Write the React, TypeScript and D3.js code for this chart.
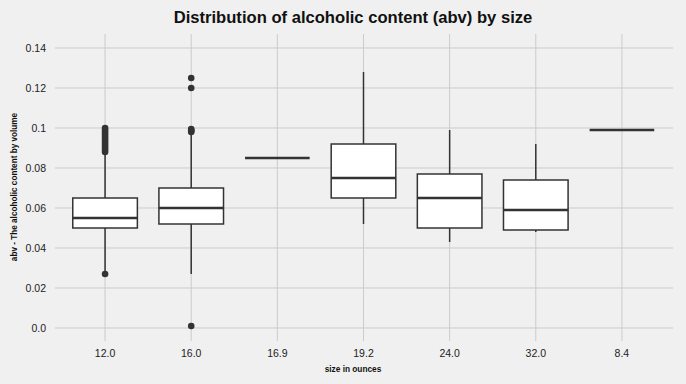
import React, { useEffect, useRef } from "react";
import * as d3 from "d3";

// box stats, one entry per size
const sizes = ["12.0", "16.0", "16.9", "19.2", "24.0", "32.0", "8.4"];
const q1 = [0.05, 0.052, 0.085, 0.065, 0.05, 0.049, 0.099];
const medians = [0.055, 0.06, 0.085, 0.075, 0.065, 0.059, 0.099];
const q3 = [0.065, 0.07, 0.085, 0.092, 0.077, 0.074, 0.099];
const whiskerLow = [0.028, 0.027, 0.085, 0.052, 0.043, 0.048, 0.099];
const whiskerHigh = [0.087, 0.097, 0.085, 0.128, 0.099, 0.092, 0.099];
const outliers = [
  [0.027, 0.088, 0.089, 0.09, 0.091, 0.092, 0.093, 0.094, 0.095, 0.096, 0.097, 0.098, 0.099, 0.1],
  [0.001, 0.098, 0.0985, 0.099, 0.0995, 0.12, 0.125],
  [], [], [], [], []
];
const yTicks = [0, 0.02, 0.04, 0.06, 0.08, 0.1, 0.12, 0.14];

const W = 686, H = 384;
const ink = "#333333";
const grid = "#cbcbcb";

export default function App() {
  const ref = useRef<SVGSVGElement>(null);

  useEffect(() => {
    document.body.style.margin = "0";
    const svg = d3.select(ref.current);

    const x = d3.scaleBand().domain(sizes).range([62, 665]);
    const y = d3.scaleLinear().domain([-0.0065, 0.147]).range([341, 34]);
    const bw = x.bandwidth() * 0.75;
    const cx = (i: number) => (x(sizes[i]) as number) + x.bandwidth() / 2;

    const rows = sizes.map((s, i) => ({ s, i }));

    // grid
    svg.selectAll(".hgrid").data(yTicks).join("line").attr("class", "hgrid")
      .attr("x1", 55).attr("x2", 673)
      .attr("y1", d => y(d)).attr("y2", d => y(d))
      .attr("stroke", grid).attr("stroke-width", 1);
    svg.selectAll(".vgrid").data(sizes).join("line").attr("class", "vgrid")
      .attr("x1", (d, i) => cx(i)).attr("x2", (d, i) => cx(i))
      .attr("y1", y.range()[1]).attr("y2", y.range()[0])
      .attr("stroke", grid).attr("stroke-width", 1);

    // tick labels
    svg.selectAll(".ytick").data(yTicks).join("text").attr("class", "ytick")
      .attr("x", 46).attr("y", d => y(d)).attr("dy", "0.35em")
      .attr("text-anchor", "end").attr("font-size", 10.5).attr("fill", "#222")
      .text(d => (d === 0 ? "0.0" : d === 0.1 ? "0.1" : d.toFixed(2)));
    svg.selectAll(".xtick").data(sizes).join("text").attr("class", "xtick")
      .attr("x", (d, i) => cx(i)).attr("y", 357)
      .attr("text-anchor", "middle").attr("font-size", 10.5).attr("fill", "#222")
      .text(d => d);

    // whiskers
    svg.selectAll(".whisk").data(rows).join("line").attr("class", "whisk")
      .attr("x1", d => cx(d.i)).attr("x2", d => cx(d.i))
      .attr("y1", d => y(whiskerLow[d.i])).attr("y2", d => y(whiskerHigh[d.i]))
      .attr("stroke", ink).attr("stroke-width", 1.5);

    // boxes
    svg.selectAll(".box").data(rows.filter(d => q3[d.i] > q1[d.i])).join("rect").attr("class", "box")
      .attr("x", d => cx(d.i) - bw / 2).attr("width", bw)
      .attr("y", d => y(q3[d.i])).attr("height", d => y(q1[d.i]) - y(q3[d.i]))
      .attr("fill", "white").attr("stroke", ink).attr("stroke-width", 1.5);

    // medians
    svg.selectAll(".med").data(rows).join("line").attr("class", "med")
      .attr("x1", d => cx(d.i) - bw / 2).attr("x2", d => cx(d.i) + bw / 2)
      .attr("y1", d => y(medians[d.i])).attr("y2", d => y(medians[d.i]))
      .attr("stroke", ink).attr("stroke-width", 2.6);

    // fliers
    const pts = rows.flatMap(d => outliers[d.i].map(v => ({ i: d.i, v })));
    svg.selectAll(".flier").data(pts).join("circle").attr("class", "flier")
      .attr("cx", d => cx(d.i)).attr("cy", d => y(d.v)).attr("r", 3.3)
      .attr("fill", ink);

    // labels
    svg.selectAll(".title").data([0]).join("text").attr("class", "title")
      .attr("x", 353).attr("y", 23).attr("text-anchor", "middle")
      .attr("font-size", 16.6).attr("font-weight", "bold").attr("fill", "#111")
      .text("Distribution of alcoholic content (abv) by size");
    svg.selectAll(".xlabel").data([0]).join("text").attr("class", "xlabel")
      .attr("x", 353).attr("y", 372).attr("text-anchor", "middle")
      .attr("font-size", 8.3).attr("font-weight", "bold").attr("fill", "#111")
      .text("size in ounces");
    svg.selectAll(".ylabel").data([0]).join("text").attr("class", "ylabel")
      .attr("transform", `translate(17, ${187}) rotate(-90)`).attr("text-anchor", "middle")
      .attr("font-size", 8.2).attr("font-weight", "bold").attr("fill", "#111")
      .text("abv - The alcoholic content by volume");
  }, []);

  return (
    <svg ref={ref} width={W} height={H}
      style={{ display: "block", background: "#f0f0f0", fontFamily: "'Liberation Sans', Arial, sans-serif" }} />
  );
}
